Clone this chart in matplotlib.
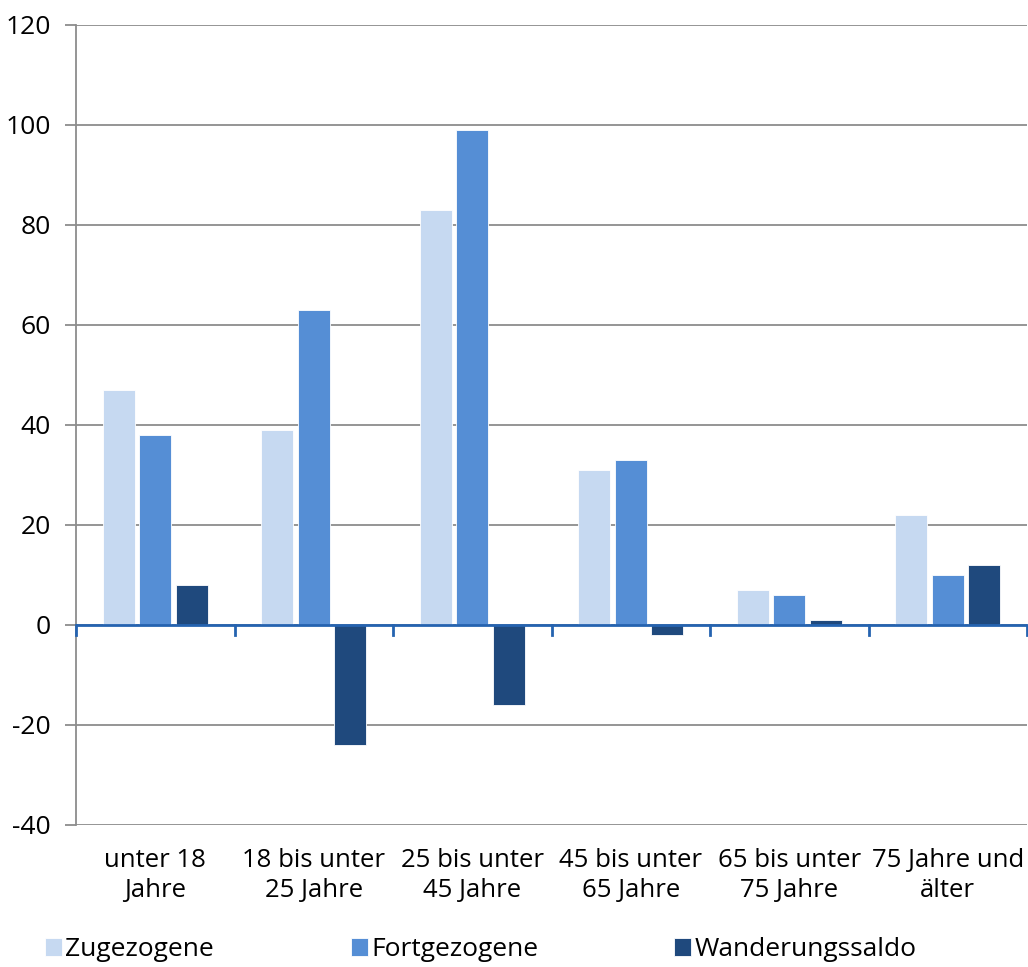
import matplotlib
matplotlib.use("Agg")
import matplotlib.pyplot as plt
import numpy as np

categories = ["unter 18\nJahre", "18 bis unter\n25 Jahre", "25 bis unter\n45 Jahre",
              "45 bis unter\n65 Jahre", "65 bis unter\n75 Jahre", "75 Jahre und\nälter"]
zugezogene = [47, 39, 83, 31, 7, 22]
fortgezogene = [38, 63, 99, 33, 6, 10]
saldo = [8, -24, -16, -2, 1, 12]
series_names = ["Zugezogene", "Fortgezogene", "Wanderungssaldo"]
colors = ["#C6D9F1", "#558ED5", "#1F497D"]
yticks = [-40, -20, 0, 20, 40, 60, 80, 100, 120]

plt.rcParams['font.family'] = ['Open Sans', 'DejaVu Sans']

fig = plt.figure(figsize=(10.28, 9.67), dpi=100)
ax = fig.add_axes([76/1028, 1-825/967, (1027-76)/1028, 800/967])

x = np.arange(len(categories))
w = 0.2
step = 0.23
handles = []
for i, (vals, name, c) in enumerate(zip([zugezogene, fortgezogene, saldo], series_names, colors)):
    h = ax.bar(x + (i-1)*step, vals, width=w, color=c, label=name, zorder=3,
               edgecolor="white", linewidth=0.6)
    handles.append(h)

ax.set_xlim(-0.5, len(categories)-0.5)
ax.set_ylim(-40, 120)
ax.set_yticks(yticks)
ax.set_yticklabels([str(t) for t in yticks], fontsize=19)
ax.yaxis.grid(True, color="#8C8C8C", linewidth=1.3, zorder=0)
ax.tick_params(axis='y', length=8, width=1.3, color="#8C8C8C", pad=10)

# zero axis line
ax.axhline(0, color="#2563B0", linewidth=2, zorder=4)
ax.set_xticks([])
for b in np.arange(-0.5, len(categories)-0.4, 1.0):
    ax.plot([b, b], [0, -2], color="#2563B0", linewidth=2, zorder=4, clip_on=False)

for i, lab in enumerate(categories):
    ax.text(i, -44.6, lab, ha="center", va="top", fontsize=18.5, linespacing=1.25)

for s in ["top", "right", "bottom"]:
    ax.spines[s].set_visible(False)
ax.spines["left"].set_color("#8C8C8C")
ax.spines["left"].set_linewidth(1.3)

leg_x = [45/1028, 351/1028, 674/1028]
for h, name, lx in zip(handles, series_names, leg_x):
    lg = fig.legend([h], [name], loc="lower left", bbox_to_anchor=(lx, 0.005),
                    frameon=False, fontsize=19, handlelength=0.65, handleheight=0.65,
                    handletextpad=0.12, borderpad=0, borderaxespad=0)

fig.savefig("out.png", dpi=100)
